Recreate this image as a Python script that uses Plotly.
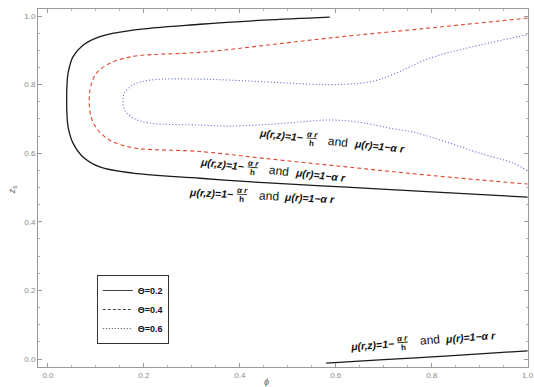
import math
import plotly.graph_objects as go

# ---------------- data ----------------
theta_labels = ["Θ=0.2", "Θ=0.4", "Θ=0.6"]

phi_02 = [0.5875, 0.45, 0.317, 0.177, 0.108, 0.073, 0.052, 0.042, 0.0395, 0.039,
          0.0395, 0.042, 0.052, 0.073, 0.108, 0.177, 0.317, 0.45, 0.623, 0.8, 1.0]
z_02 = [0.997, 0.988, 0.976, 0.959, 0.940, 0.915, 0.881, 0.834, 0.795, 0.755,
        0.715, 0.676, 0.630, 0.589, 0.560, 0.542, 0.527, 0.514, 0.501, 0.487, 0.472]

phi_02b = [0.58, 0.7, 0.8, 0.9, 1.0]
z_02b = [-0.012, -0.002, 0.006, 0.015, 0.024]

phi_04 = [1.0, 0.796, 0.5875, 0.45, 0.317, 0.177, 0.129, 0.101, 0.089, 0.086,
          0.089, 0.101, 0.129, 0.177, 0.317, 0.45, 0.623, 0.8, 1.0]
z_04 = [0.994, 0.965, 0.936, 0.914, 0.894, 0.882, 0.862, 0.833, 0.794, 0.755,
        0.711, 0.673, 0.638, 0.616, 0.605, 0.585, 0.560, 0.535, 0.510]

phi_06 = [0.998, 0.9, 0.796, 0.72, 0.671, 0.5875, 0.48, 0.379, 0.317, 0.2125,
          0.177, 0.160, 0.156, 0.160, 0.177, 0.2125, 0.317, 0.379, 0.5, 0.5875,
          0.65, 0.7125, 0.76, 0.83, 0.9, 0.97, 1.0]
z_06 = [0.945, 0.915, 0.877, 0.830, 0.808, 0.800, 0.806, 0.813, 0.816, 0.813,
        0.799, 0.776, 0.755, 0.726, 0.703, 0.688, 0.682, 0.679, 0.688, 0.697,
        0.690, 0.673, 0.662, 0.633, 0.600, 0.571, 0.548]

x_ticks = [0.0, 0.2, 0.4, 0.6, 0.8, 1.0]
y_ticks = [0.0, 0.2, 0.4, 0.6, 0.8, 1.0]

label_a = "μ(r,z)=1−"
label_num = "α r"
label_den = "h"
label_and = "and"
label_d = "μ(r)=1−α r"
# label anchor (data coords) and angle in degrees
label_x = [0.4854, 0.3625, 0.3396, 0.675]
label_y = [0.653, 0.5685, 0.484, 0.0408]
label_ang = [6.5, 6.5, 3.0, -4.5]

# ---------------- figure ----------------
fig = go.Figure()
fig.add_trace(go.Scatter(x=phi_02, y=z_02, mode="lines", line=dict(color="#1a1a1a", width=1.3, shape="spline"), showlegend=False))
fig.add_trace(go.Scatter(x=phi_02b, y=z_02b, mode="lines", line=dict(color="#1a1a1a", width=1.3, shape="spline"), showlegend=False))
fig.add_trace(go.Scatter(x=phi_04, y=z_04, mode="lines", line=dict(color="#e2452f", width=1.1, dash="4px,3px", shape="spline"), showlegend=False))
fig.add_trace(go.Scatter(x=phi_06, y=z_06, mode="lines", line=dict(color="#6f7cd2", width=1.1, dash="1.2px,2px", shape="spline"), showlegend=False))

for name, dash in zip(theta_labels, ["solid", "3px,2px", "1px,2px"]):
    fig.add_trace(go.Scatter(x=[None], y=[None], mode="lines", name=name,
                             line=dict(color="#444", width=1, dash=dash)))

fontA = dict(family="Liberation Sans, Arial", size=10.5, color="#111")
fontF = dict(family="Liberation Sans, Arial", size=8, color="#111")
fontAnd = dict(family="Liberation Sans, Arial", size=12, color="#111")

annotations = []
for lx, ly, ang in zip(label_x, label_y, label_ang):
    t = math.radians(ang)
    pieces = [
        ("<b><i>" + label_a + "</i></b>", 0, 0, fontA),
        ("<b><i><u>" + label_num + "</u></i></b>", 31, 4, fontF),
        ("<b>" + label_den + "</b>", 31, -5, fontF),
        (label_and, 58, 0, fontAnd),
        ("<b><i>" + label_d + "</i></b>", 99, 0, fontA),
    ]
    for txt, d, p, f in pieces:
        xs = d * math.cos(t) + p * math.sin(t)
        ys = -d * math.sin(t) + p * math.cos(t)
        annotations.append(dict(x=lx, y=ly, xref="x", yref="y", text=txt, showarrow=False,
                                xanchor="center", yanchor="middle", textangle=ang,
                                xshift=xs, yshift=ys, font=f))

# axis titles
annotations.append(dict(x=0.467, y=-0.042, xref="paper", yref="paper", text="<i>ϕ</i>", showarrow=False,
                        xanchor="center", yanchor="middle",
                        font=dict(family="Liberation Sans, Arial", size=9, color="#666")))
annotations.append(dict(x=-0.053, y=0.494, xref="paper", yref="paper", text="<i>z</i><sub>s</sub>", showarrow=False,
                        xanchor="center", yanchor="middle", textangle=-90,
                        font=dict(family="Liberation Sans, Arial", size=9, color="#666")))

axis_common = dict(showline=True, linecolor="#9a9a9a", linewidth=1, mirror="allticks",
                   ticks="inside", ticklen=4, tickcolor="#9a9a9a", showgrid=False, zeroline=False,
                   automargin=False, ticklabeloverflow="allow",
                   tickfont=dict(family="Liberation Sans, Arial", size=8, color="#8a8a8a"),
                   tickformat=".1f",
                   minor=dict(ticks="inside", ticklen=2, tickcolor="#b0b0b0", dtick=0.05, showgrid=False))

fig.update_layout(
    width=534, height=387,
    margin=dict(l=38, r=6, t=9, b=20),
    paper_bgcolor="white", plot_bgcolor="white",
    xaxis=dict(range=[-0.0208, 1.0008], tickvals=x_ticks, **axis_common),
    yaxis=dict(range=[-0.0233, 1.0204], tickvals=y_ticks, **axis_common),
    legend=dict(x=0.12, y=0.257, xanchor="left", yanchor="top", bgcolor="white",
                bordercolor="#333", borderwidth=1, itemwidth=30, tracegroupgap=0,
                font=dict(family="Liberation Sans, Arial", size=9, color="#111", weight="bold")),
    annotations=annotations,
    showlegend=True,
)

fig.write_html("out.html", config={"displayModeBar": False},
               post_script="document.body.style.margin='0';document.body.style.overflow='hidden';")
